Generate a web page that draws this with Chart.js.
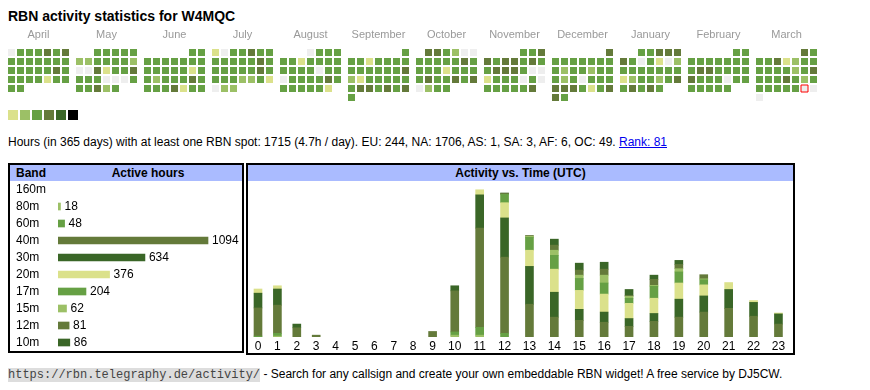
<!DOCTYPE html>
<html>
<head>
<meta charset="utf-8">
<title>RBN activity statistics for W4MQC</title>
<script src="https://cdn.jsdelivr.net/npm/chart.js@4.4.1/dist/chart.umd.min.js"></script>
<style>
  body { margin: 0; background: #fff; font-family: Arial, "Liberation Sans", sans-serif; color: #000; }
  #page { position: relative; width: 870px; height: 390px; overflow: hidden; }
  #title { position: absolute; left: 8px; top: 7px; font-size: 14px; line-height: 18px; font-weight: bold; white-space: nowrap; }
  #calendar { position: absolute; left: 0; top: 20px; }
  #legend { position: absolute; left: 8px; top: 110px; }
  #legend span { float: left; width: 10px; height: 10px; margin-right: 2px; }
  #summary { position: absolute; left: 8px; top: 135px; font-size: 12px; line-height: 14px; white-space: nowrap; }
  #summary a { color: #00e; }
  .box { position: absolute; top: 163px; border: 2px solid #000; box-sizing: border-box; }
  .head { position: absolute; left: 0; right: 0; top: 0; height: 16px; background: #aabbff; font-size: 12px; font-weight: bold; line-height: 16px; white-space: nowrap; }
  .box canvas { position: absolute; left: 0; top: 16px; }
  #footer { position: absolute; left: 8px; top: 367px; font-size: 12px; line-height: 14px; white-space: nowrap; }
  #footer code { font-family: "Liberation Mono", "DejaVu Sans Mono", monospace; font-size: 12px; background: #ddd; color: #444; }
</style>
</head>
<body>
<div id="page">
  <div id="title">RBN activity statistics for W4MQC</div>
  <canvas id="calendar" width="870" height="84"></canvas>
  <div id="legend"></div>
  <div id="summary">Hours (in 365 days) with at least one RBN spot: 1715 (4.7h / day). EU: 244, NA: 1706, AS: 1, SA: 3, AF: 6, OC: 49. <a href="#">Rank: 81</a></div>
  <div class="box" style="left:8px;width:236px;height:190px">
    <div class="head"><span style="position:absolute;left:6px">Band</span><span style="position:absolute;left:44px;right:0;text-align:center">Active hours</span></div>
    <canvas id="bands" width="232" height="170"></canvas>
  </div>
  <div class="box" style="left:246px;width:549px;height:192px">
    <div class="head" style="text-align:center">Activity vs. Time (UTC)</div>
    <canvas id="hours" width="545" height="172"></canvas>
  </div>
  <div id="footer"><code>https://rbn.telegraphy.de/activity/</code> - Search for any callsign and create your own embeddable RBN widget! A free service by DJ5CW.</div>
</div>
<script>
// CALENDAR DATA: one digit per day (0 = no spot, 1..5 = activity level), weeks split by spaces
const months = ['April', 'May', 'June', 'July', 'August', 'September', 'October', 'November', 'December', 'January', 'February', 'March'];
const monthYears = [2024, 2024, 2024, 2024, 2024, 2024, 2024, 2024, 2024, 2025, 2025, 2025];
const monthNums = [4, 5, 6, 7, 8, 9, 10, 11, 12, 1, 2, 3];
const dayLevels = [
  '0333434 3333333 3333343 3333133 33',
  '33333 2233332 0041334 3330003 33423',
  '33 3333333 3333313 3233343 3334133',
  '1033433 3333343 3333343 3332231 022',
  '0333 3313333 3333033 0333343 333331',
  '3 3313333 3333334 2133333 3443434 3',
  '443200 3333343 3331333 3433434 0233',
  '334 4344343 3444300 1333030 333334',
  '4 3333333 3233233 3230333 4443134 43',
  '33444 4303102 3333333 1233234 34343',
  '33 3333333 3443333 4333033 33333',
  '43 3341233 3333234 3334323 3333300 0'
];
const todayMonth = 11, todayDay = 29;
const levelColors = ['#eeeeee', '#dbe18b', '#9cc066', '#66a044', '#647a3a', '#3a6627', '#000000'];

// BANDS
const bands = ['160m', '80m', '60m', '40m', '30m', '20m', '17m', '15m', '12m', '10m'];
const bandHours = [0, 18, 48, 1094, 634, 376, 204, 62, 81, 86];
const bandColors = ['#dbe18b', '#9cc066', '#66a044', '#647a3a', '#3a6627', '#dbe18b', '#66a044', '#9cc066', '#647a3a', '#3a6627'];

// ACTIVITY VS TIME (hours per band, per UTC hour)
const hourLabels = ['0', '1', '2', '3', '4', '5', '6', '7', '8', '9', '10', '11', '12', '13', '14', '15', '16', '17', '18', '19', '20', '21', '22', '23'];
const act160m = [0, 0, 0, 0, 0, 0, 0, 0, 0, 0, 0, 0, 0, 0, 0, 0, 0, 0, 0, 0, 0, 0, 0, 0];
const act80m  = [0, 2, 0, 0, 0, 0, 0, 0, 0, 0, 4, 4, 0, 0, 0, 0, 0, 0, 0, 0, 0, 0, 0, 0];
const act60m  = [2, 6, 0, 0, 0, 0, 0, 0, 0, 0, 7, 17, 8, 0, 0, 0, 0, 0, 0, 0, 0, 0, 0, 0];
const act40m  = [61, 61, 20, 4, 0, 0, 0, 0, 0, 12, 89, 215, 165, 71, 43, 36, 32, 23, 34, 43, 54, 62, 45, 28];
const act30m  = [32, 35, 8, 0, 0, 0, 0, 0, 0, 0, 11, 72, 85, 82, 54, 24, 22, 17, 17, 39, 35, 41, 30, 22];
const act20m  = [9, 7, 0, 0, 0, 0, 0, 0, 0, 0, 0, 11, 33, 35, 50, 41, 39, 33, 33, 35, 24, 15, 4, 2];
const act17m  = [0, 0, 0, 0, 0, 0, 0, 0, 0, 0, 0, 0, 18, 28, 30, 26, 24, 11, 26, 24, 11, 0, 0, 0];
const act15m  = [0, 0, 0, 0, 0, 0, 0, 0, 0, 0, 0, 0, 0, 2, 11, 7, 17, 4, 2, 7, 2, 0, 0, 0];
const act12m  = [0, 0, 0, 0, 0, 0, 0, 0, 0, 0, 0, 0, 2, 2, 11, 11, 13, 2, 13, 9, 9, 0, 0, 0];
const act10m  = [0, 0, 0, 0, 0, 0, 0, 0, 0, 0, 0, 0, 1, 0, 13, 15, 15, 13, 9, 9, 0, 0, 0, 0];

Chart.defaults.font.family = 'Arial, "Liberation Sans", sans-serif';
Chart.defaults.font.size = 12;
Chart.defaults.color = '#000';

// no extra room for overhanging tick labels
const noPad = s => { s.paddingLeft = 0; s.paddingRight = 0; s.paddingTop = 0; s.paddingBottom = 0; };

// LEGEND
const legend = document.getElementById('legend');
levelColors.slice(1).forEach(c => {
  legend.innerHTML += `<span style="background:${c}"></span>`;
});

// CALENDAR
const cells = [];
dayLevels.forEach((s, m) => {
  const levels = s.replace(/ /g, '');
  const first = (new Date(monthYears[m], monthNums[m] - 1, 1).getDay() + 6) % 7;
  for (let d = 0; d < levels.length; d++) {
    const k = first + d;
    cells.push({
      x: m * 68 / 9 + k % 7,
      y: Math.floor(k / 7),
      level: +levels[d],
      today: m === todayMonth && d + 1 === todayDay
    });
  }
});

new Chart(document.getElementById('calendar'), {
  type: 'scatter',
  data: {
    datasets: [{
      data: cells,
      pointStyle: 'rect',
      pointRadius: 3.5 * Math.SQRT2,
      pointBackgroundColor: c => levelColors[c.raw.level],
      pointBorderColor: c => c.raw.today ? '#ff0000' : 'rgba(0,0,0,0)',
      pointBorderWidth: c => c.raw.today ? 1 : 0
    }]
  },
  options: {
    responsive: false,
    animation: false,
    events: [],
    layout: { padding: 0, autoPadding: false },
    plugins: { legend: { display: false }, tooltip: { enabled: false } },
    scales: {
      x: {
        type: 'linear', position: 'top', bounds: 'data', offset: false,
        min: -11.5 / 9, max: (870 - 11.5) / 9,
        grid: { display: false, drawTicks: false },
        border: { display: false },
        afterBuildTicks: s => { s.ticks = months.map((_, m) => ({ value: m * 68 / 9 + 3 })); },
        afterFit: s => { s.height = 26; noPad(s); },
        ticks: { autoSkip: false, maxRotation: 0, padding: 4, color: '#999', font: { size: 11 }, callback: (v, i) => months[i] }
      },
      y: { display: false, reverse: true, min: -6.5 / 9, max: 51.5 / 9 }
    }
  }
});

// BAND TABLE
const valueLabels = {
  id: 'valueLabels',
  afterDatasetsDraw(chart) {
    const ctx = chart.ctx;
    ctx.save();
    ctx.font = '12px Arial, "Liberation Sans", sans-serif';
    ctx.fillStyle = '#000';
    ctx.textBaseline = 'middle';
    chart.getDatasetMeta(0).data.forEach((bar, i) => {
      if (bandHours[i]) ctx.fillText(bandHours[i], bar.x + 4, bar.y);
    });
    ctx.restore();
  }
};

new Chart(document.getElementById('bands'), {
  type: 'bar',
  data: {
    labels: bands,
    datasets: [{ data: bandHours.map(v => v || null), backgroundColor: bandColors, barThickness: 7 }]
  },
  options: {
    indexAxis: 'y',
    responsive: false,
    animation: false,
    events: [],
    layout: { padding: { left: 6, right: 0, top: 0, bottom: 0 }, autoPadding: false },
    plugins: { legend: { display: false }, tooltip: { enabled: false } },
    scales: {
      x: { display: false, min: 0, max: 184 * Math.max(...bandHours) / 150 },
      y: {
        grid: { display: false, drawTicks: false },
        border: { display: false },
        afterFit: s => { s.width = 42; noPad(s); },
        ticks: { autoSkip: false, crossAlign: 'far', padding: 0 }
      }
    }
  },
  plugins: [valueLabels]
});

// ACTIVITY VS TIME
const colWidths = hourLabels.map(l => l.length > 1 ? 24.9 : 19.4);
const centers = [];
let acc = 0.3;
colWidths.forEach(w => { centers.push(acc + w / 2); acc += w; });

const actSeries = [act160m, act80m, act60m, act40m, act30m, act20m, act17m, act15m, act12m, act10m];

new Chart(document.getElementById('hours'), {
  type: 'bar',
  data: {
    datasets: actSeries.map((arr, i) => ({
      label: bands[i],
      data: arr.map((v, h) => ({ x: centers[h], y: v || null })),
      backgroundColor: bandColors[i],
      barThickness: 8
    }))
  },
  options: {
    responsive: false,
    animation: false,
    events: [],
    layout: { padding: 0, autoPadding: false },
    plugins: { legend: { display: false }, tooltip: { enabled: false } },
    scales: {
      x: {
        type: 'linear', stacked: true, bounds: 'data', offset: false, min: 0, max: 545,
        grid: { display: false, drawTicks: false, offset: false },
        border: { display: false },
        afterBuildTicks: s => { s.ticks = centers.map(v => ({ value: v })); },
        afterFit: s => { s.height = 16; noPad(s); },
        ticks: { autoSkip: false, maxRotation: 0, padding: 2, callback: (v, i) => hourLabels[i] }
      },
      y: { display: false, stacked: true, min: 0, max: 338 }
    }
  }
});
</script>
</body>
</html>
